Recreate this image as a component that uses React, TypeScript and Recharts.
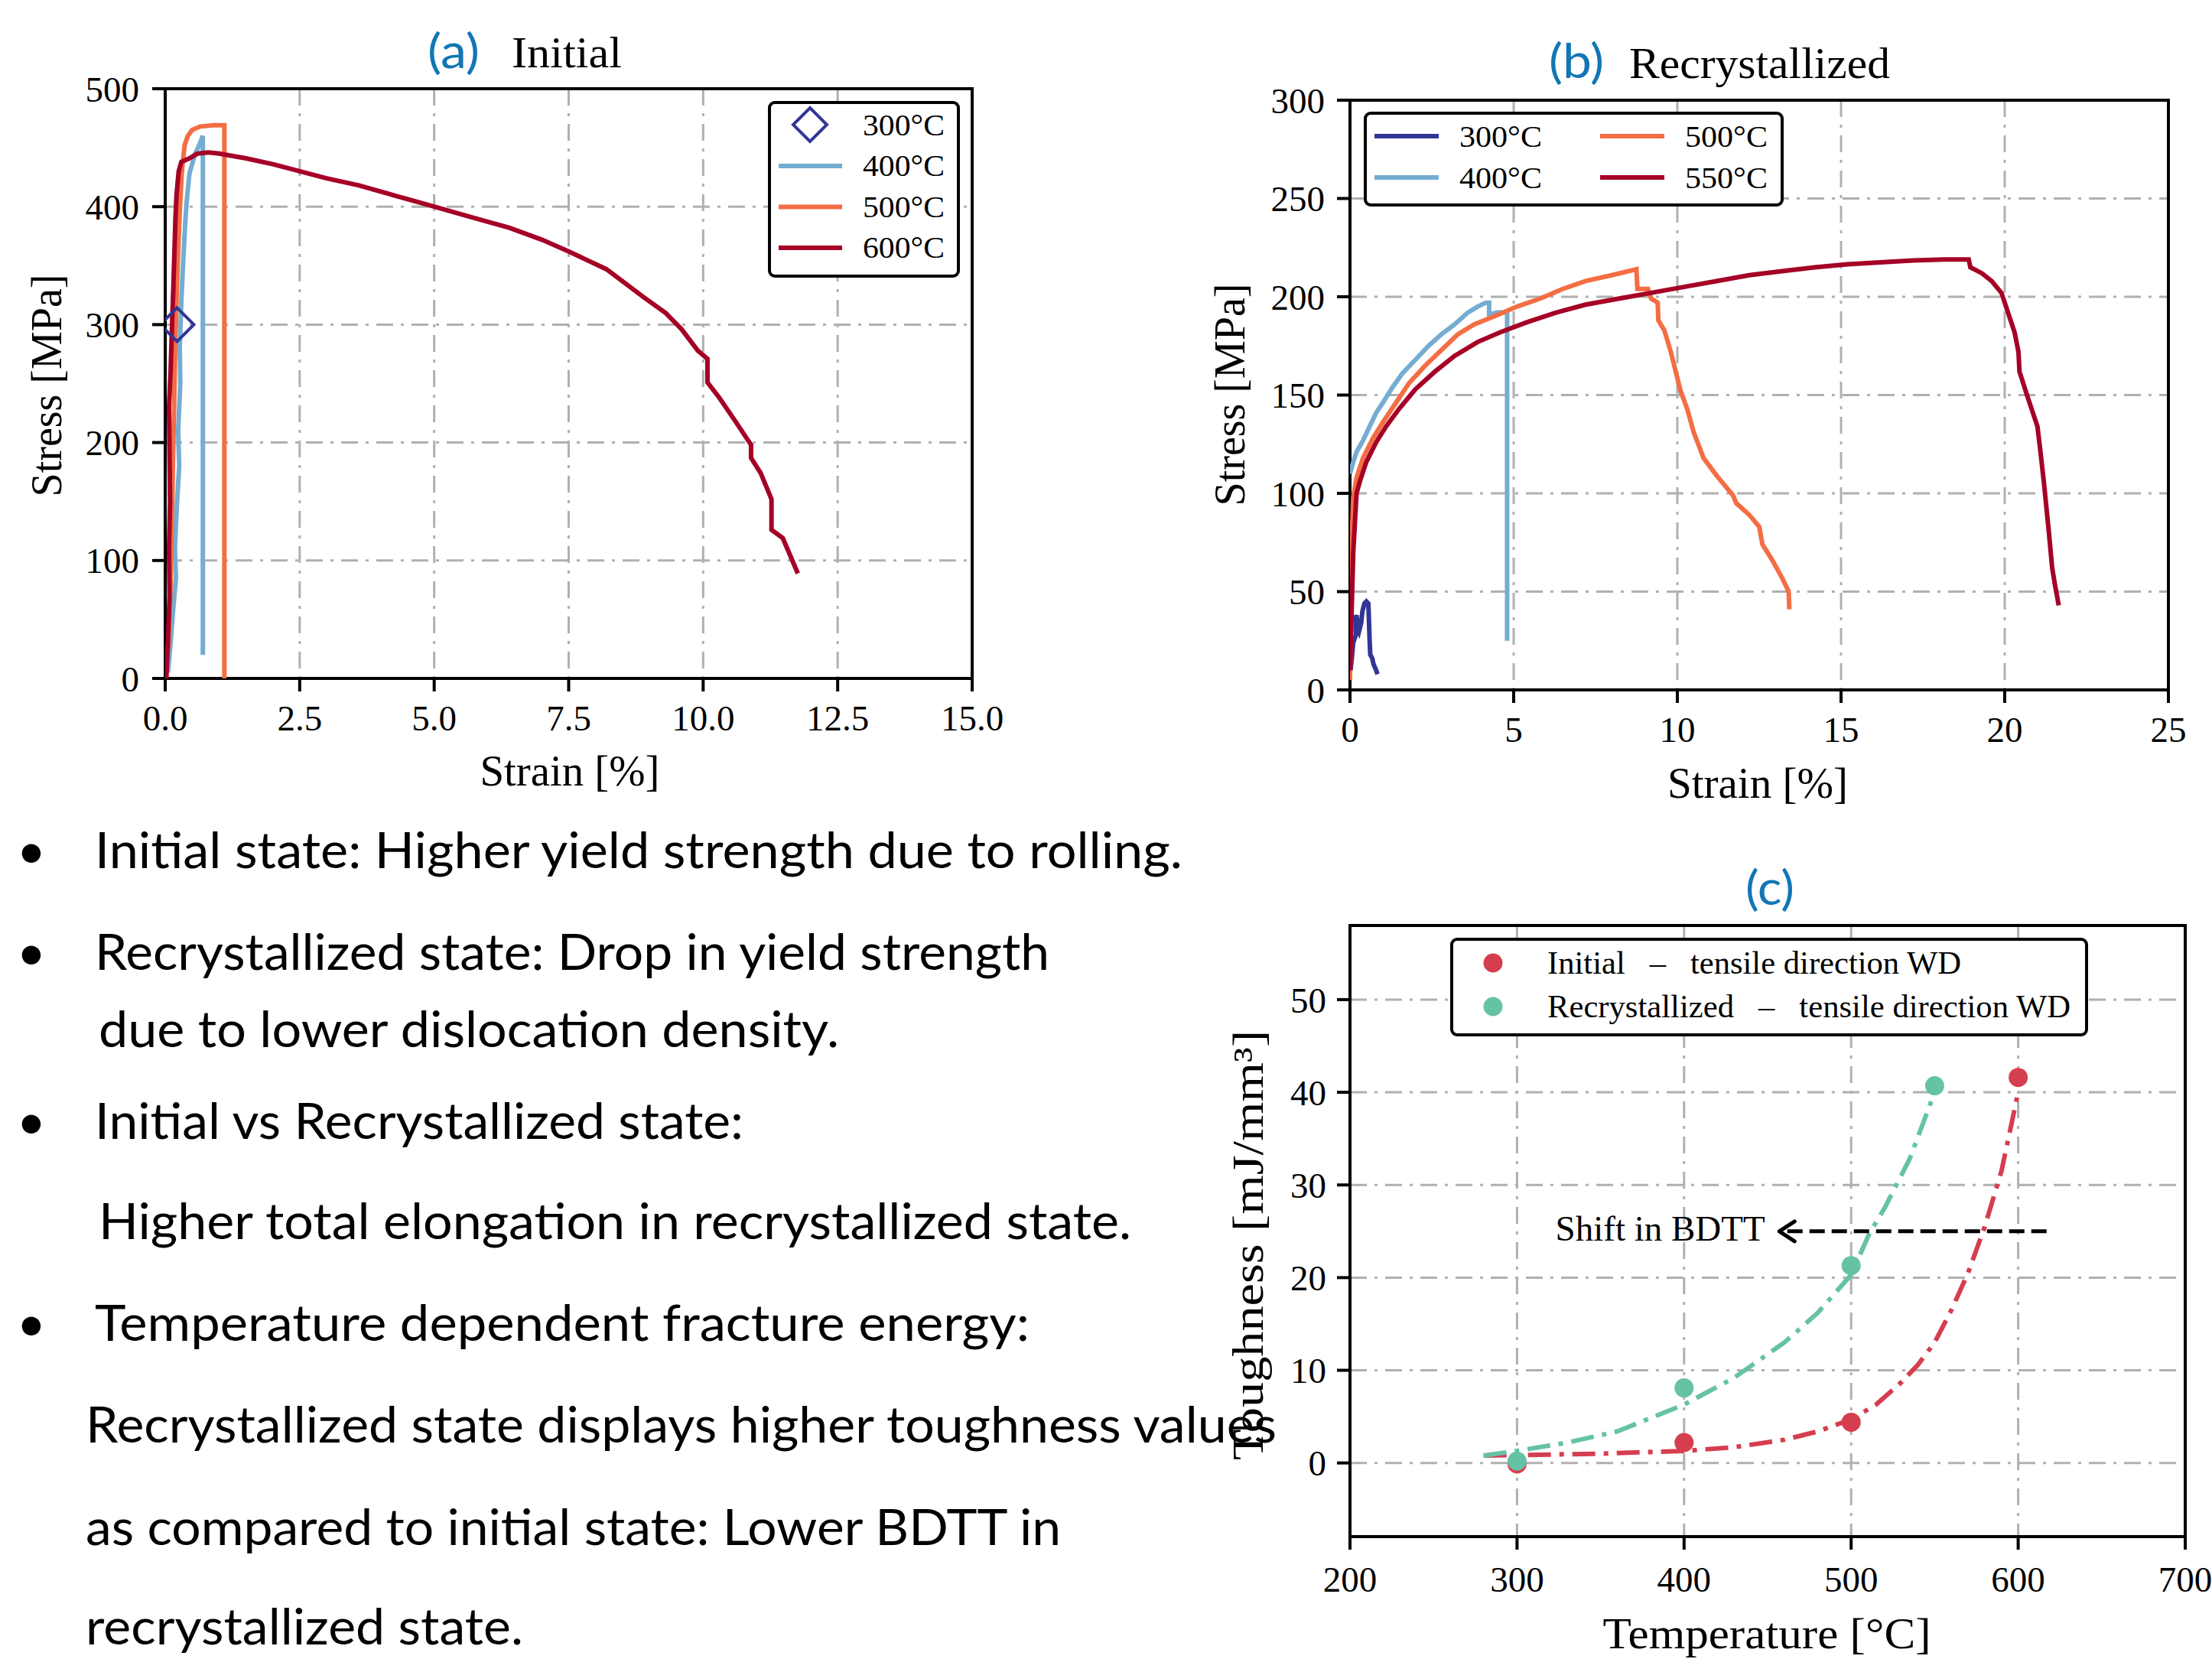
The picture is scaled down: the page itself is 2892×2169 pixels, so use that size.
import React from 'react';
import {
  ComposedChart,
  Line,
  Scatter,
  XAxis,
  YAxis,
  CartesianGrid,
  ReferenceArea,
  ReferenceLine,
  ReferenceDot
} from 'recharts';

type Pt = [number, number];

// (a) Initial state: strain [%], stress [MPa]
const initial300: Pt[] = [[0.22, 300]];
const initial400: Pt[] = [
  [0.05, 5], [0.1, 30], [0.15, 60], [0.2, 85], [0.18, 110], [0.22, 150], [0.26, 180],
  [0.24, 210], [0.28, 250], [0.27, 280], [0.3, 320], [0.33, 350], [0.37, 385], [0.4, 405],
  [0.45, 428], [0.55, 444], [0.63, 452], [0.7, 460], [0.7, 20]
];
const initial500: Pt[] = [
  [0.0, 0], [0.06, 30], [0.1, 80], [0.13, 150], [0.16, 220], [0.19, 290], [0.23, 350],
  [0.27, 395], [0.31, 430], [0.36, 452], [0.42, 460], [0.5, 465], [0.65, 468], [0.9, 469],
  [1.1, 469], [1.1, 0]
];
const initial600: Pt[] = [
  [0.02, 0], [0.05, 30], [0.08, 70], [0.07, 110], [0.09, 150], [0.08, 190], [0.07, 230],
  [0.1, 260], [0.12, 290], [0.15, 330], [0.17, 360], [0.19, 390], [0.21, 410], [0.25, 430],
  [0.3, 438], [0.45, 441], [0.6, 445], [0.8, 446], [1.0, 445], [1.5, 441], [2.0, 436],
  [2.5, 430], [3.0, 424], [3.6, 418], [4.3, 409], [5.0, 400], [5.7, 391], [6.4, 382],
  [7.0, 372], [7.5, 362], [8.2, 347], [8.9, 323], [9.3, 310], [9.6, 296], [9.9, 278],
  [10.08, 271], [10.08, 251], [10.3, 238], [10.6, 218], [10.89, 198], [10.89, 187],
  [11.07, 174], [11.27, 152], [11.27, 126], [11.48, 119], [11.76, 89]
];

// (b) Recrystallized state
const recryst300: Pt[] = [
  [0.02, 10], [0.1, 24], [0.18, 28], [0.17, 36], [0.2, 38], [0.24, 32], [0.28, 30],
  [0.34, 34], [0.38, 40], [0.44, 44], [0.5, 45], [0.56, 44], [0.58, 35], [0.6, 25],
  [0.62, 18], [0.68, 16], [0.72, 13], [0.8, 10], [0.84, 8]
];
const recryst400: Pt[] = [
  [0.0, 110], [0.1, 116], [0.2, 121], [0.4, 127], [0.6, 134], [0.8, 141], [1.0, 146],
  [1.3, 154], [1.6, 161], [2.0, 168], [2.4, 175], [2.8, 181], [3.2, 186], [3.6, 192],
  [3.9, 195], [4.15, 197], [4.25, 197], [4.25, 191], [4.5, 192], [4.8, 192], [4.8, 25]
];
const recryst500: Pt[] = [
  [0.0, 5], [0.03, 40], [0.06, 80], [0.1, 98], [0.2, 108], [0.4, 118], [0.7, 128],
  [1.0, 136], [1.4, 146], [1.8, 156], [2.3, 165], [2.8, 173], [3.3, 181], [3.8, 186],
  [4.4, 190], [5.1, 195], [5.8, 199], [6.5, 204], [7.2, 208], [8.0, 211], [8.75, 214],
  [8.78, 204], [9.1, 204], [9.2, 199], [9.4, 197], [9.42, 188], [9.6, 183], [9.8, 172],
  [10.1, 152], [10.3, 143], [10.5, 131], [10.8, 118], [11.2, 109], [11.7, 99], [11.8, 95],
  [12.2, 89], [12.5, 83], [12.6, 74], [12.9, 66], [13.2, 57], [13.4, 50], [13.42, 41]
];
const recryst550: Pt[] = [
  [0.0, 10], [0.05, 40], [0.1, 70], [0.15, 85], [0.2, 100], [0.3, 106], [0.5, 116],
  [0.8, 126], [1.1, 134], [1.5, 143], [2.0, 153], [2.6, 162], [3.2, 170], [3.9, 177],
  [4.6, 182], [5.4, 187], [6.3, 192], [7.2, 196], [8.2, 199], [9.2, 202], [10.2, 205],
  [11.2, 208], [12.2, 211], [13.2, 213], [14.2, 215], [15.2, 216.5], [16.2, 217.5],
  [17.2, 218.5], [18.2, 219], [18.9, 219], [18.95, 215], [19.3, 212], [19.6, 208],
  [19.9, 202], [20.1, 192], [20.3, 182], [20.42, 172], [20.45, 162], [20.7, 149],
  [21.0, 134], [21.1, 120], [21.2, 105], [21.35, 80], [21.45, 62], [21.55, 52], [21.65, 43]
];

// (c) Toughness [mJ/mm^3] vs temperature [°C]
const initialToughness: Pt[] = [[300, -0.1], [400, 2.2], [500, 4.4], [600, 41.6]];
const recrystToughness: Pt[] = [[300, 0.2], [400, 8.1], [500, 21.3], [550, 40.7]];
const initialFit: Pt[] = [
  [280, 0.8], [300, 0.85], [350, 1.0], [400, 1.3], [430, 1.7], [460, 2.5], [480, 3.4],
  [500, 4.7], [515, 6.3], [530, 8.7], [540, 10.6], [550, 13], [560, 16.5], [570, 20.5],
  [580, 25.5], [590, 31.5], [600, 40]
];
const recrystFit: Pt[] = [
  [280, 0.8], [300, 1.3], [330, 2.2], [360, 3.4], [400, 6.3], [430, 9.2], [460, 13],
  [480, 16.2], [500, 20.3], [511, 24.8], [520, 27.5], [535, 32.8], [550, 40]
];
const shiftArrow: Pt[] = [[617, 25], [457, 25]];

// ticks
const strainTicksA = [0, 2.5, 5, 7.5, 10, 12.5, 15];
const stressTicksA = [0, 100, 200, 300, 400, 500];
const strainTicksB = [0, 5, 10, 15, 20, 25];
const stressTicksB = [0, 50, 100, 150, 200, 250, 300];
const tempTicks = [200, 300, 400, 500, 600, 700];
const toughTicks = [0, 10, 20, 30, 40, 50];

const legendA = ['300°C', '400°C', '500°C', '600°C'];
const legendB = ['300°C', '400°C', '500°C', '550°C'];
const legendC = [
  'Initial\u2002 – \u2002tensile direction WD',
  'Recrystallized\u2002 – \u2002tensile direction WD'
];

const notes = [
  'Initial state: Higher yield strength due to rolling.',
  'Recrystallized state: Drop in yield strength',
  'due to lower dislocation density.',
  'Initial vs Recrystallized state:',
  'Higher total elongation in recrystallized state.',
  'Temperature dependent fracture energy:',
  'Recrystallized state displays higher toughness values',
  'as compared to initial state: Lower BDTT in',
  'recrystallized state.'
];
// x, baseline, width, bullet
const noteLayout: [number, number, number, boolean][] = [
  [124, 1135, 1422, true],
  [124, 1268, 1248, true],
  [129, 1369, 968, false],
  [124, 1489, 848, true],
  [129, 1620, 1350, false],
  [124, 1753, 1222, true],
  [112, 1886, 1557, false],
  [112, 2020, 1275, false],
  [112, 2150, 572, false]
];

const C300 = '#313695';
const C400 = '#74add1';
const C500 = '#f46d43';
const C600 = '#a50026';
const RED = '#d53e4f';
const TEAL = '#66c2a5';
const BLUE = '#1276b5';
const GRID = '#b0b0b0';
const SERIF = '"Liberation Serif", "DejaVu Serif", serif';
const SANS = 'Lato, "Open Sans", sans-serif';

const toXY = (pts: Pt[]) => pts.map(([x, y]) => ({ x, y }));

const tickStyle = { fill: '#000', fontSize: 47, fontFamily: SERIF };
const tickLine = { stroke: '#000', strokeWidth: 4 };

const Diamond = (p: any) => {
  const r = 22;
  const { cx, cy } = p;
  return (
    <polygon
      points={`${cx},${cy - r} ${cx + r},${cy} ${cx},${cy + r} ${cx - r},${cy}`}
      fill="none"
      stroke={C300}
      strokeWidth={4}
    />
  );
};

const dotShape = (color: string) => (p: any) => <circle cx={p.cx} cy={p.cy} r={12.5} fill={color} />;

const ArrowHead = (p: any) => (
  <path
    d={`M ${p.cx + 20} ${p.cy - 13} L ${p.cx} ${p.cy} L ${p.cx + 20} ${p.cy + 13}`}
    fill="none"
    stroke="#000"
    strokeWidth={5}
    strokeLinecap="round"
    strokeLinejoin="round"
  />
);

const ShiftLabel = (p: any) => (
  <text x={p.cx} y={p.cy + 12} textAnchor="end" fontFamily={SERIF} fontSize={47} fill="#000">
    Shift in BDTT
  </text>
);

function PanelA() {
  return (
    <ComposedChart width={1330} height={1060} margin={{ top: 116, right: 59, bottom: 73, left: 0 }}>
      <CartesianGrid stroke={GRID} strokeWidth={3} strokeDasharray="22 10 4 10" />
      <XAxis
        dataKey="x" type="number" domain={[0, 15]} ticks={strainTicksA} allowDataOverflow interval={0}
        height={100} axisLine={false} tickLine={tickLine} tickSize={17} tickMargin={18} tick={tickStyle}
        tickFormatter={(v: number) => v.toFixed(1)}
      />
      <YAxis
        dataKey="y" type="number" domain={[0, 500]} ticks={stressTicksA} allowDataOverflow interval={0}
        width={216} axisLine={false} tickLine={tickLine} tickSize={17} tickMargin={17} tick={tickStyle}
      />
      <Line data={toXY(initial400)} dataKey="y" type="linear" stroke={C400} strokeWidth={6} dot={false} isAnimationActive={false} />
      <Line data={toXY(initial500)} dataKey="y" type="linear" stroke={C500} strokeWidth={6} dot={false} isAnimationActive={false} />
      <Line data={toXY(initial600)} dataKey="y" type="linear" stroke={C600} strokeWidth={6} dot={false} isAnimationActive={false} />
      <Scatter data={toXY(initial300)} dataKey="y" shape={Diamond} isAnimationActive={false} />
      <ReferenceArea x1={0} x2={15} y1={0} y2={500} fill="none" fillOpacity={0} stroke="#000" strokeWidth={4} />
    </ComposedChart>
  );
}

function PanelB() {
  return (
    <ComposedChart width={1332} height={1060} margin={{ top: 131, right: 57, bottom: 58, left: 0 }}>
      <CartesianGrid stroke={GRID} strokeWidth={3} strokeDasharray="22 10 4 10" />
      <XAxis
        dataKey="x" type="number" domain={[0, 25]} ticks={strainTicksB} allowDataOverflow interval={0}
        height={100} axisLine={false} tickLine={tickLine} tickSize={17} tickMargin={18} tick={tickStyle}
      />
      <YAxis
        dataKey="y" type="number" domain={[0, 300]} ticks={stressTicksB} allowDataOverflow interval={0}
        width={205} axisLine={false} tickLine={tickLine} tickSize={17} tickMargin={16} tick={tickStyle}
      />
      <Line data={toXY(recryst300)} dataKey="y" type="linear" stroke={C300} strokeWidth={6} dot={false} isAnimationActive={false} />
      <Line data={toXY(recryst400)} dataKey="y" type="linear" stroke={C400} strokeWidth={6} dot={false} isAnimationActive={false} />
      <Line data={toXY(recryst500)} dataKey="y" type="linear" stroke={C500} strokeWidth={6} dot={false} isAnimationActive={false} />
      <Line data={toXY(recryst550)} dataKey="y" type="linear" stroke={C600} strokeWidth={6} dot={false} isAnimationActive={false} />
      <ReferenceArea x1={0} x2={25} y1={0} y2={300} fill="none" fillOpacity={0} stroke="#000" strokeWidth={4} />
    </ComposedChart>
  );
}

function PanelC() {
  const [tail, tip] = shiftArrow;
  return (
    <ComposedChart width={1332} height={1069} margin={{ top: 110, right: 35, bottom: 60, left: 0 }}>
      <CartesianGrid stroke={GRID} strokeWidth={3} strokeDasharray="22 10 4 10" />
      <XAxis
        dataKey="x" type="number" domain={[200, 700]} ticks={tempTicks} allowDataOverflow interval={0}
        height={100} axisLine={false} tickLine={tickLine} tickSize={17} tickMargin={22} tick={tickStyle}
      />
      <YAxis
        dataKey="y" type="number" domain={[-7.95, 58]} ticks={toughTicks} allowDataOverflow interval={0}
        width={205} axisLine={false} tickLine={tickLine} tickSize={17} tickMargin={14} tick={tickStyle}
      />
      <Line data={toXY(initialFit)} dataKey="y" type="linear" stroke={RED} strokeWidth={6} strokeDasharray="30 11 6 11" dot={false} isAnimationActive={false} />
      <Line data={toXY(recrystFit)} dataKey="y" type="linear" stroke={TEAL} strokeWidth={6} strokeDasharray="30 11 6 11" dot={false} isAnimationActive={false} />
      <Scatter data={toXY(initialToughness)} dataKey="y" shape={dotShape(RED)} isAnimationActive={false} />
      <Scatter data={toXY(recrystToughness)} dataKey="y" shape={dotShape(TEAL)} isAnimationActive={false} />
      <ReferenceLine
        segment={[{ x: tail[0], y: tail[1] }, { x: tip[0] + 1, y: tip[1] }]}
        stroke="#000" strokeWidth={5} strokeDasharray="20 9"
      />
      <ReferenceDot x={tip[0]} y={tip[1]} shape={ArrowHead} />
      <ReferenceDot x={tip[0] - 8.5} y={tip[1]} shape={ShiftLabel} />
      <ReferenceArea x1={200} x2={700} y1={-7.95} y2={58} fill="none" fillOpacity={0} stroke="#000" strokeWidth={4} />
    </ComposedChart>
  );
}

function Overlay() {
  const serifText = { fontFamily: SERIF, fill: '#000' } as const;
  const lenAdj = 'spacingAndGlyphs' as const;
  const rotLabel = (text: string, cx: number, cy: number, len: number) => (
    <text
      x={cx} y={cy} transform={`rotate(-90, ${cx}, ${cy})`} textAnchor="middle" dominantBaseline="central"
      fontSize={56} textLength={len} lengthAdjust={lenAdj} {...serifText}
    >
      {text}
    </text>
  );
  const hLabel = (text: string, cx: number, cy: number, len: number) => (
    <text
      x={cx} y={cy} textAnchor="middle" dominantBaseline="central"
      fontSize={56} textLength={len} lengthAdjust={lenAdj} {...serifText}
    >
      {text}
    </text>
  );
  const colorsA = [C400, C500, C600];
  const colorsB = [C300, C400, C500, C600];
  return (
    <svg width={2892} height={2169} style={{ position: 'absolute', left: 0, top: 0, pointerEvents: 'none' }}>
      {/* titles */}
      <text x={559} y={89} fontFamily={SANS} fontSize={62} fill={BLUE} textLength={68} lengthAdjust={lenAdj}>(a)</text>
      <text x={669} y={88} fontSize={56} textLength={144} lengthAdjust={lenAdj} {...serifText}>Initial</text>
      <text x={2025} y={102} fontFamily={SANS} fontSize={62} fill={BLUE} textLength={72} lengthAdjust={lenAdj}>(b)</text>
      <text x={2130} y={102} fontSize={56} textLength={341} lengthAdjust={lenAdj} {...serifText}>Recrystallized</text>
      <text x={2282} y={1183} fontFamily={SANS} fontSize={62} fill={BLUE} textLength={64} lengthAdjust={lenAdj}>(c)</text>

      {/* axis labels */}
      {rotLabel('Stress [MPa]', 61, 504, 291)}
      {hLabel('Strain [%]', 745, 1008, 235)}
      {rotLabel('Stress [MPa]', 1608, 516, 291)}
      {hLabel('Strain [%]', 2298, 1024, 236)}
      {rotLabel('Toughness [mJ/mm³]', 1632, 1628, 562)}
      {hLabel('Temperature [°C]', 2310, 2136, 429)}

      {/* legend (a) */}
      <rect x={1006} y={134} width={247} height={227} rx={7} fill="#fff" stroke="#000" strokeWidth={4} />
      <polygon points="1059,141 1081,163 1059,185 1037,163" fill="none" stroke={C300} strokeWidth={4} />
      {colorsA.map((c, i) => (
        <line key={c} x1={1018} x2={1101} y1={217 + i * 53.5} y2={217 + i * 53.5} stroke={c} strokeWidth={6} />
      ))}
      {legendA.map((t, i) => (
        <text key={t} x={1128} y={177 + i * 53.3} fontSize={40} textLength={107} lengthAdjust={lenAdj} {...serifText}>{t}</text>
      ))}

      {/* legend (b) */}
      <rect x={1785} y={148} width={545} height={120} rx={7} fill="#fff" stroke="#000" strokeWidth={4} />
      {legendB.map((t, i) => {
        const col = i < 2 ? 0 : 1;
        const row = i % 2;
        const lx = col === 0 ? 1797 : 2092;
        const tx = col === 0 ? 1908 : 2203;
        const ly = 178 + row * 54;
        return (
          <g key={t}>
            <line x1={lx} x2={lx + 84} y1={ly} y2={ly} stroke={colorsB[i]} strokeWidth={6} />
            <text x={tx} y={ly + 14} fontSize={40} textLength={108} lengthAdjust={lenAdj} {...serifText}>{t}</text>
          </g>
        );
      })}

      {/* legend (c) */}
      <rect x={1898} y={1228} width={830} height={125} rx={7} fill="#fff" stroke="#000" strokeWidth={4} />
      {legendC.map((t, i) => (
        <g key={t}>
          <circle cx={1952} cy={1259 + i * 57} r={12.5} fill={i === 0 ? RED : TEAL} />
          <text x={2023} y={1273 + i * 57} fontSize={42} textLength={i === 0 ? 541 : 684} lengthAdjust={lenAdj} {...serifText}>{t}</text>
        </g>
      ))}

      {/* notes */}
      {notes.map((t, i) => {
        const [x, y, w, bullet] = noteLayout[i];
        return (
          <g key={t}>
            {bullet && (
              <text x={41} y={y} textAnchor="middle" fontFamily={SANS} fontSize={66} fill="#000">•</text>
            )}
            <text x={x} y={y} fontFamily={SANS} fontSize={66} fill="#000" textLength={w} lengthAdjust={lenAdj}>{t}</text>
          </g>
        );
      })}
    </svg>
  );
}

export default function App() {
  return (
    <div style={{ position: 'absolute', left: 0, top: 0, width: 2892, height: 2169, background: '#fff', overflow: 'hidden' }}>
      <div style={{ position: 'absolute', left: 0, top: 0 }}>
        <PanelA />
      </div>
      <div style={{ position: 'absolute', left: 1560, top: 0 }}>
        <PanelB />
      </div>
      <div style={{ position: 'absolute', left: 1560, top: 1100 }}>
        <PanelC />
      </div>
      <Overlay />
    </div>
  );
}
